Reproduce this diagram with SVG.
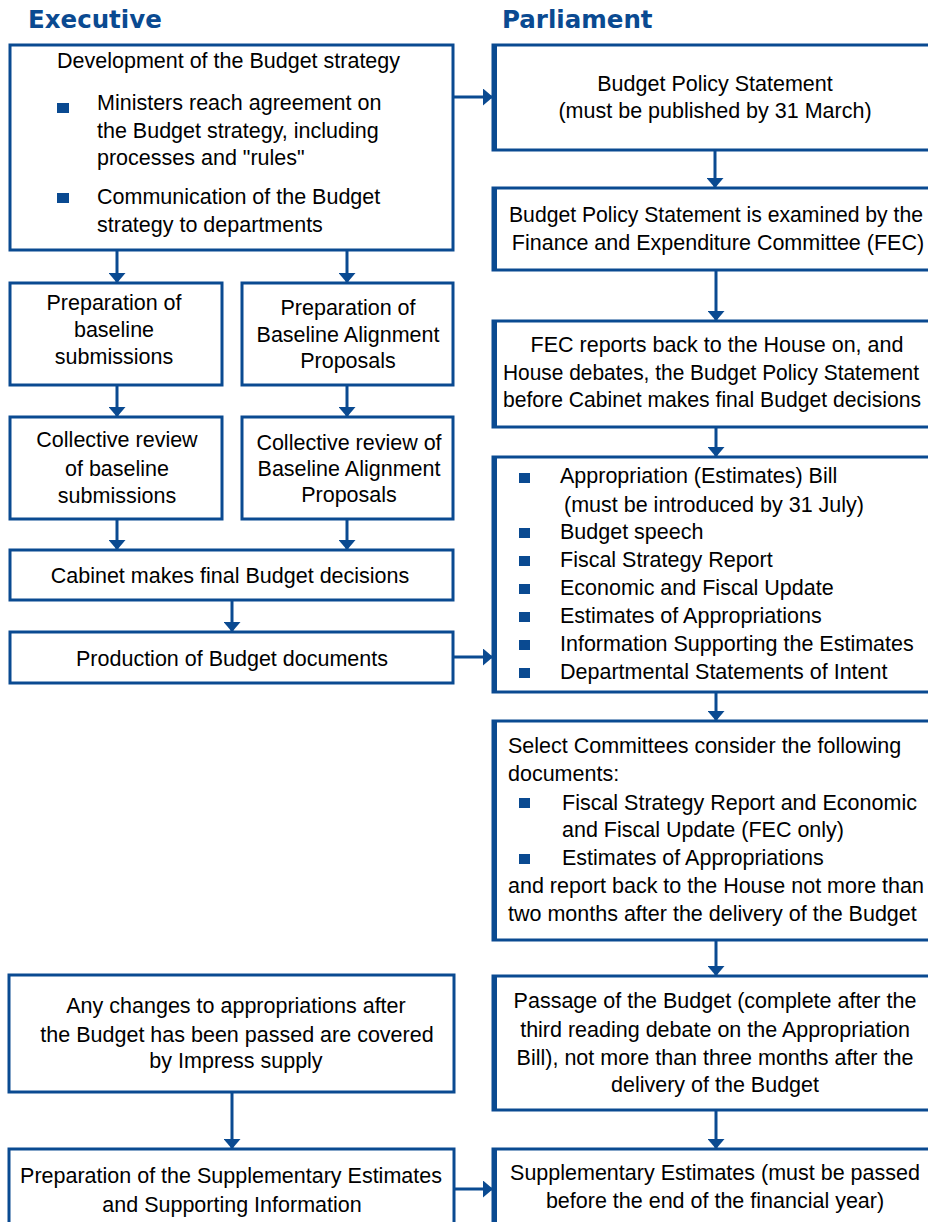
<svg xmlns="http://www.w3.org/2000/svg" width="928" height="1222" viewBox="0 0 928 1222">
<style>
.bx{fill:#fff;stroke:#0a4a91;stroke-width:3}
.le{stroke:#0a4a91;stroke-width:5}
.t{font-family:"Liberation Sans",Arial,sans-serif;font-size:21.5px;fill:#000}
.c{text-anchor:middle}
.h{font-family:"DejaVu Sans",Verdana,sans-serif;font-weight:bold;font-size:24.5px;fill:#0a4a91}
.b{fill:#0a4a91}
.cn{stroke:#0a4a91;stroke-width:3;fill:none;marker-end:url(#ah)}
</style>
<defs>
<marker id="ah" viewBox="0 0 10 17" refX="9" refY="8.5" markerWidth="10" markerHeight="17" markerUnits="userSpaceOnUse" orient="auto">
<path d="M0,0 L10,8.5 L0,17 z" fill="#0a4a91"/>
</marker>
</defs>
<rect width="928" height="1222" fill="#fff"/>
<text class="h" x="28" y="28">Executive</text>
<text class="h" x="502" y="28">Parliament</text>

<g id="connectors">
<path class="cn" d="M453,97 H492"/>
<path class="cn" d="M117,250 V282"/>
<path class="cn" d="M347,250 V282"/>
<path class="cn" d="M117,385 V416"/>
<path class="cn" d="M347,385 V416"/>
<path class="cn" d="M117,519 V549"/>
<path class="cn" d="M347,519 V549"/>
<path class="cn" d="M232,600 V631"/>
<path class="cn" d="M453,657 H492"/>
<path class="cn" d="M715,150 V187"/>
<path class="cn" d="M716,270 V320"/>
<path class="cn" d="M716,427 V456"/>
<path class="cn" d="M716,692 V720"/>
<path class="cn" d="M716,940 V975"/>
<path class="cn" d="M716,1110 V1148"/>
<path class="cn" d="M232,1092 V1148"/>
<path class="cn" d="M454,1189 H492"/>
</g>

<g id="dev-strategy">
<rect class="bx" x="10" y="45" width="443" height="205"/>
<text class="t" x="57" y="68">Development of the Budget strategy</text>
<rect class="b" x="57" y="103" width="12" height="10"/>
<text class="t" x="97" y="110">Ministers reach agreement on</text>
<text class="t" x="97" y="138">the Budget strategy, including</text>
<text class="t" x="97" y="165">processes and "rules"</text>
<rect class="b" x="57" y="193" width="12" height="10"/>
<text class="t" x="97" y="204">Communication of the Budget</text>
<text class="t" x="97" y="232">strategy to departments</text>
</g>

<g id="prep-baseline">
<rect class="bx" x="10" y="283" width="212" height="102"/>
<text class="t c" x="114" y="310">Preparation of</text>
<text class="t c" x="114" y="337">baseline</text>
<text class="t c" x="114" y="364">submissions</text>
</g>

<g id="prep-bap">
<rect class="bx" x="242" y="283" width="211" height="102"/>
<text class="t c" x="348" y="315">Preparation of</text>
<text class="t c" x="348" y="342">Baseline Alignment</text>
<text class="t c" x="348" y="368">Proposals</text>
</g>

<g id="review-baseline">
<rect class="bx" x="10" y="417" width="212" height="102"/>
<text class="t c" x="117" y="447">Collective review</text>
<text class="t c" x="117" y="476">of baseline</text>
<text class="t c" x="117" y="503">submissions</text>
</g>

<g id="review-bap">
<rect class="bx" x="242" y="417" width="211" height="102"/>
<text class="t c" x="349" y="450">Collective review of</text>
<text class="t c" x="349" y="476">Baseline Alignment</text>
<text class="t c" x="349" y="502">Proposals</text>
</g>

<g id="cabinet">
<rect class="bx" x="10" y="550" width="443" height="50"/>
<text class="t c" x="230" y="583">Cabinet makes final Budget decisions</text>
</g>

<g id="production">
<rect class="bx" x="10" y="632" width="443" height="51"/>
<text class="t c" x="232" y="666">Production of Budget documents</text>
</g>

<g id="imprest">
<rect class="bx" x="9" y="975" width="445" height="117"/>
<text class="t c" x="236" y="1013">Any changes to appropriations after</text>
<text class="t c" x="237" y="1042">the Budget has been passed are covered</text>
<text class="t c" x="236" y="1068">by Impress supply</text>
</g>

<g id="prep-supp">
<rect class="bx" x="9" y="1149" width="445" height="90"/>
<text class="t c" x="231" y="1183">Preparation of the Supplementary Estimates</text>
<text class="t c" x="232" y="1212">and Supporting Information</text>
</g>

<g id="bps">
<rect class="bx" x="493" y="45" width="448" height="105"/>
<line class="le" x1="494.5" y1="44" x2="494.5" y2="151"/>
<text class="t c" x="715" y="91">Budget Policy Statement</text>
<text class="t c" x="715" y="118">(must be published by 31 March)</text>
</g>

<g id="bps-examined">
<rect class="bx" x="493" y="188" width="448" height="82"/>
<line class="le" x1="494.5" y1="187" x2="494.5" y2="271"/>
<text class="t" x="509" y="222" textLength="414" lengthAdjust="spacingAndGlyphs">Budget Policy Statement is examined by the</text>
<text class="t c" x="718" y="250">Finance and Expenditure Committee (FEC)</text>
</g>

<g id="fec-reports">
<rect class="bx" x="493" y="321" width="448" height="106"/>
<line class="le" x1="494.5" y1="320" x2="494.5" y2="428"/>
<text class="t c" x="717" y="352">FEC reports back to the House on, and</text>
<text class="t" x="503" y="380" textLength="416" lengthAdjust="spacingAndGlyphs">House debates, the Budget Policy Statement</text>
<text class="t" x="503" y="407" textLength="418" lengthAdjust="spacingAndGlyphs">before Cabinet makes final Budget decisions</text>
</g>

<g id="budget-docs">
<rect class="bx" x="493" y="457" width="448" height="235"/>
<line class="le" x1="494.5" y1="456" x2="494.5" y2="693"/>
<rect class="b" x="519" y="473" width="11" height="10"/>
<text class="t" x="560" y="483">Appropriation (Estimates) Bill</text>
<text class="t" x="564" y="512">(must be introduced by 31 July)</text>
<rect class="b" x="519" y="528" width="11" height="10"/>
<text class="t" x="560" y="539">Budget speech</text>
<rect class="b" x="519" y="556" width="11" height="10"/>
<text class="t" x="560" y="567">Fiscal Strategy Report</text>
<rect class="b" x="519" y="584" width="11" height="10"/>
<text class="t" x="560" y="595">Economic and Fiscal Update</text>
<rect class="b" x="519" y="612" width="11" height="10"/>
<text class="t" x="560" y="623">Estimates of Appropriations</text>
<rect class="b" x="519" y="640" width="11" height="10"/>
<text class="t" x="560" y="651">Information Supporting the Estimates</text>
<rect class="b" x="519" y="668" width="11" height="10"/>
<text class="t" x="560" y="679">Departmental Statements of Intent</text>
</g>

<g id="select-committees">
<rect class="bx" x="493" y="721" width="448" height="219"/>
<line class="le" x1="494.5" y1="720" x2="494.5" y2="941"/>
<text class="t" x="508" y="753">Select Committees consider the following</text>
<text class="t" x="508" y="781">documents:</text>
<rect class="b" x="519" y="798" width="11" height="10"/>
<text class="t" x="562" y="810">Fiscal Strategy Report and Economic</text>
<text class="t" x="562" y="837">and Fiscal Update (FEC only)</text>
<rect class="b" x="519" y="854" width="11" height="10"/>
<text class="t" x="562" y="865">Estimates of Appropriations</text>
<text class="t" x="508" y="893">and report back to the House not more than</text>
<text class="t" x="508" y="921">two months after the delivery of the Budget</text>
</g>

<g id="passage">
<rect class="bx" x="493" y="976" width="448" height="134"/>
<line class="le" x1="494.5" y1="975" x2="494.5" y2="1111"/>
<text class="t c" x="715" y="1008">Passage of the Budget (complete after the</text>
<text class="t c" x="715" y="1037">third reading debate on the Appropriation</text>
<text class="t c" x="715" y="1065">Bill), not more than three months after the</text>
<text class="t c" x="715" y="1092">delivery of the Budget</text>
</g>

<g id="supp-estimates">
<rect class="bx" x="493" y="1149" width="448" height="90"/>
<line class="le" x1="494.5" y1="1148" x2="494.5" y2="1240"/>
<text class="t c" x="715" y="1180">Supplementary Estimates (must be passed</text>
<text class="t c" x="715" y="1208">before the end of the financial year)</text>
</g>
</svg>
